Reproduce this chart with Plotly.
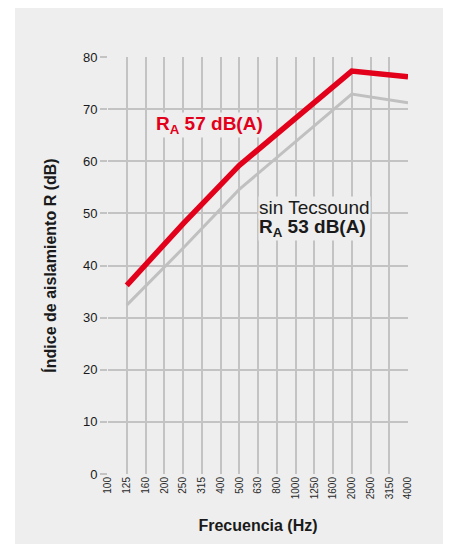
import plotly.graph_objs as go

# third-octave band frequencies shown on the x axis (Hz)
frequencies = ['100', '125', '160', '200', '250', '315', '400', '500', '630',
               '800', '1000', '1250', '1600', '2000', '2500', '3150', '4000']

# con Tecsound (red line), read at the vertices of the curve
freq_tecsound = ['125', '250', '500', '2000', '4000']
r_tecsound = [36.2, 48.0, 59.2, 77.3, 76.2]

# sin Tecsound (grey line)
freq_sin = ['125', '250', '500', '2000', '4000']
r_sin = [32.4, 43.3, 54.6, 72.9, 71.2]

y_ticks = [0, 10, 20, 30, 40, 50, 60, 70, 80]

panel = '#eeeeee'
grid = '#c3c3c3'
red = '#e2001a'
font = 'Liberation Sans, Arial, sans-serif'

graph = []
graph.append(go.Scatter(x=freq_sin, y=r_sin, mode='lines',
                        line=dict(color='#c0c0c0', width=3),
                        name='sin Tecsound', showlegend=False))
graph.append(go.Scatter(x=freq_tecsound, y=r_tecsound, mode='lines',
                        line=dict(color=red, width=5.5),
                        name='con Tecsound', showlegend=False))

# the page keeps an 8px body margin, so the figure is 8px smaller than the window
layout = dict(
    width=443, height=536,
    margin=dict(l=100, r=43, t=49, b=70, pad=0),
    paper_bgcolor=panel, plot_bgcolor=panel,
    font=dict(family=font, color='#222222'),
    xaxis=dict(type='category', categoryorder='array',
               categoryarray=frequencies, range=[0, 16],
               tickvals=frequencies, ticktext=frequencies,
               tickangle=-90, tickfont=dict(size=10, color='#2a2a2a'),
               showgrid=True, gridcolor=grid, gridwidth=1.5,
               showline=False, zeroline=False, ticks='',
               title=dict(text='<b>Frecuencia (Hz)</b>',
                          font=dict(size=16, color='#1a1a1a'), standoff=21)),
    yaxis=dict(range=[0, 80], tickvals=y_ticks,
               tickfont=dict(size=13, color='#1a1a1a'),
               ticks='outside', ticklen=7, tickcolor=grid, tickwidth=1.5,
               showgrid=True, gridcolor=grid, gridwidth=1.5,
               showline=False, zeroline=False,
               title=dict(text='<b>Índice de aislamiento R (dB)</b>',
                          font=dict(size=16, color='#1a1a1a'), standoff=22)),
    shapes=[
        # white strip on the far left, outside the grey panel
        dict(type='rect', xref='paper', yref='paper', layer='below',
             x0=-0.34, x1=-0.31, y0=-0.2, y1=1.2,
             fillcolor='white', line=dict(width=0)),
    ],
    annotations=[
        dict(text='<b>R<sub>A</sub> 57 dB(A)</b>', x=2.5, y=66.9,
             xref='x', yref='y', xanchor='left', yanchor='middle',
             showarrow=False, bgcolor=panel, borderpad=0,
             font=dict(family=font, size=19, color=red)),
        dict(text='sin Tecsound', x=8, y=51.1,
             xref='x', yref='y', xanchor='left', yanchor='middle',
             showarrow=False, bgcolor=panel, borderpad=0,
             font=dict(family=font, size=19, color='#1a1a1a')),
        dict(text='<b>R<sub>A</sub> 53 dB(A)</b>', x=8, y=47.1,
             xref='x', yref='y', xanchor='left', yanchor='middle',
             showarrow=False, bgcolor=panel, borderpad=0,
             font=dict(family=font, size=19, color='#1a1a1a')),
    ],
)

fig = go.Figure(data=graph, layout=layout)
fig.write_html('out.html')
